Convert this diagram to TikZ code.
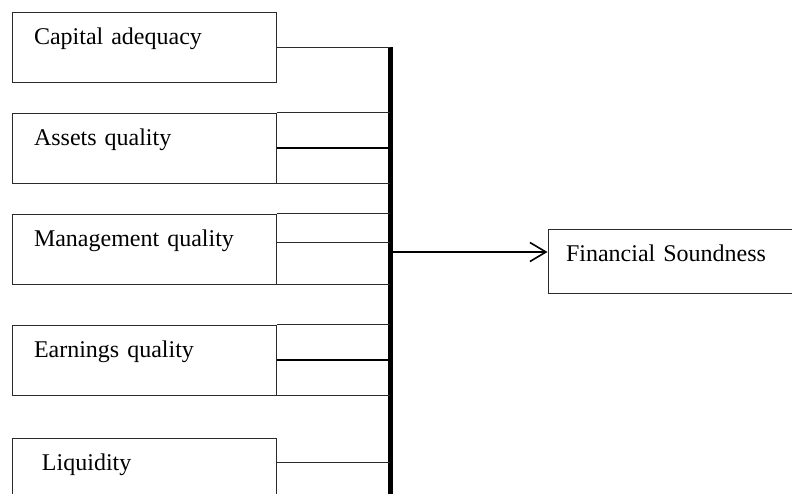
\documentclass[tikz,border=0pt]{standalone}
\usepackage{fontspec}
\setmainfont{Liberation Serif}
\usetikzlibrary{arrows.meta,calc}
\definecolor{rand}{HTML}{2B2B2B}
\tikzset{
  faktor/.style={draw=rand,line width=1pt,minimum width=264pt,text width=220pt,align=left,
    inner xsep=22pt,inner ysep=0pt,text height=32pt,text depth=38pt,font=\fontsize{24}{28}\selectfont},
  ziel/.style={faktor,minimum width=244pt,text width=208pt,inner xsep=18pt,text depth=32pt},
  linie/.style={rand,line width=1pt},
  linied/.style={black,line width=2pt},
  balken/.style={black,line width=5pt},
  pfeil/.style={-{Straight Barb[length=16pt,width=19pt]},black,line width=1.6pt},
}

\begin{document}
\begin{tikzpicture}[x=1pt,y=-1pt]
  \clip (0,0) rectangle (792,493);
  \node[faktor] (cap) at (144,47) {Capital adequacy};
  \node[faktor] (ass) at (144,148) {Assets quality};
  \node[faktor] (man) at (144,249) {Management quality};
  \node[faktor] (ear) at (144,360) {Earnings quality};
  \node[faktor] (liq) at (144,473) {\hspace*{8pt}Liquidity};
  \node[ziel] (fin) at (670,261) {Financial Soundness};
  \coordinate (btop) at (390,47);
  \coordinate (bbot) at (390,500);
  \coordinate (hub) at (390,252);
  % balken
  \draw[balken] (btop) -- (bbot);
  \draw[linie] (cap.east) -- (cap.east -| btop);
  \foreach \n in {ass,man,ear} {
    \draw[linie] (\n.north east) -- (\n.north east -| btop);
    \draw[linie] (\n.south east) -- (\n.south east -| btop);
  }
  \draw[linied] (ass.east) -- (ass.east -| btop);
  \draw[linie] ([yshift=7pt]man.east) -- ([yshift=7pt]man.east -| btop);
  \draw[linied] (ear.east) -- (ear.east -| btop);
  \draw[linie] ([yshift=11pt]liq.east) -- ([yshift=11pt]liq.east -| btop);
  % pfeil
  \draw[pfeil] (hub) -- (hub -| fin.west);
\end{tikzpicture}
\end{document}
